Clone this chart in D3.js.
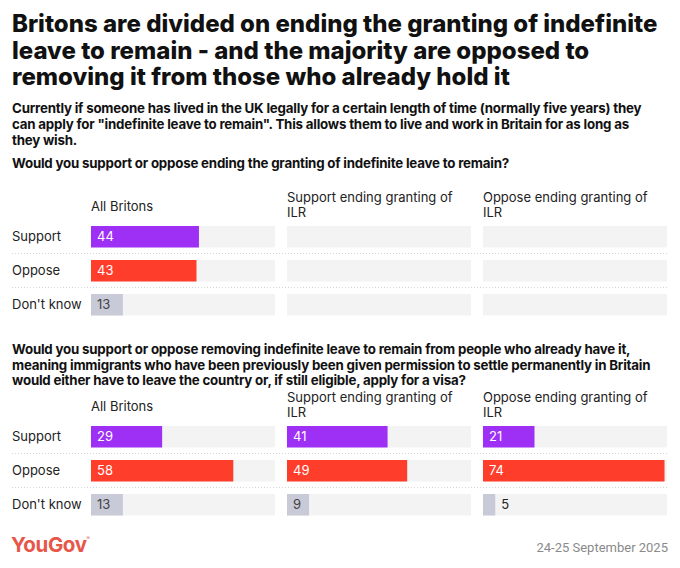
<!DOCTYPE html>
<html>
<head>
<meta charset="utf-8">
<script src="https://cdn.jsdelivr.net/npm/d3@7"></script>
<style>
  body { margin: 0; background: #fff; }
  svg { display: block; }
</style>
</head>
<body>
<div id="chart"></div>
<script>
// --- data ---
const titleLines = [
    "Britons are divided on ending the granting of indefinite",
    "leave to remain - and the majority are opposed to",
    "removing it from those who already hold it"
];
const subtitleLines = [
    "Currently if someone has lived in the UK legally for a certain length of time (normally five years) they",
    "can apply for \"indefinite leave to remain\". This allows them to live and work in Britain for as long as",
    "they wish."
];
const question1Lines = ["Would you support or oppose ending the granting of indefinite leave to remain?"];
const question2Lines = [
    "Would you support or oppose removing indefinite leave to remain from people who already have it,",
    "meaning immigrants who have been previously been given permission to settle permanently in Britain",
    "would either have to leave the country or, if still eligible, apply for a visa?"
];

const categories = ["Support", "Oppose", "Don't know"];
const groups = ["All Britons", "Support ending granting of ILR", "Oppose ending granting of ILR"];

// question 1 was only asked of all Britons; the other panels stay empty
const q1AllBritons = [44, 43, 13];
const q1SupportEnding = [null, null, null];
const q1OpposeEnding = [null, null, null];

const q2AllBritons = [29, 58, 13];
const q2SupportEnding = [41, 49, 9];
const q2OpposeEnding = [21, 74, 5];

const source = "24-25 September 2025";

// --- setup ---
const width = 680, height = 568;
const colors = { "Support": "#9e2ff5", "Oppose": "#ff3d2b", "Don't know": "#c9cad8" };
const textColors = { "Support": "#fff", "Oppose": "#fff", "Don't know": "#444" };

const svg = d3.select("#chart").append("svg")
    .attr("width", width)
    .attr("height", height)
    .attr("font-family", "Inter, 'Noto Sans', sans-serif");

const x = d3.scaleLinear().domain([0, 75]).range([0, 184]);
const panel = d3.scaleBand().domain(groups).range([91, 667]).paddingInner(0.061);

function lines(list, y0, step, attrs) {
    const t = svg.append("text").attr("x", 12).attr("y", y0);
    Object.entries(attrs).forEach(([k, v]) => t.attr(k, v));
    t.selectAll("tspan").data(list).join("tspan")
        .attr("x", 12)
        .attr("dy", (d, i) => i ? step : 0)
        .text(d => d);
    return t;
}

lines(titleLines, 32, 26.5, { "font-size": 24, "font-weight": 800, fill: "#111", "letter-spacing": 0 });
lines(subtitleLines, 112.5, 16, { "font-size": 13.3, "font-weight": 700, fill: "#111", "letter-spacing": -0.2 });

// wrap header text inside the panel width
function wrap(textSel, w) {
    textSel.each(function() {
        const text = d3.select(this);
        const words = text.text().split(/\s+/);
        const xPos = text.attr("x");
        text.text(null);
        let line = [];
        let tspan = text.append("tspan").attr("x", xPos).attr("dy", 0);
        words.forEach(word => {
            line.push(word);
            tspan.text(line.join(" "));
            if (tspan.node().getComputedTextLength() > w && line.length > 1) {
                line.pop();
                tspan.text(line.join(" "));
                line = [word];
                tspan = text.append("tspan").attr("x", xPos).attr("dy", 15).text(word);
            }
        });
    });
}

function section(questionLines, qy, top, series) {
    lines(questionLines, qy, 15.5, { "font-size": 13.3, "font-weight": 700, fill: "#111", "letter-spacing": -0.2 });

    const y = d3.scaleBand().domain(categories).range([top, top + 89.5]).paddingInner(0.368);

    // column headers
    svg.append("g").selectAll("text").data(groups).join("text")
        .attr("x", d => panel(d))
        .attr("y", d => top - 15)
        .attr("font-size", 13)
        .attr("fill", "#222")
        .text(d => d)
        .call(wrap, panel.bandwidth())
        .each(function() {
            const n = d3.select(this).selectAll("tspan").size();
            d3.select(this).attr("y", n > 1 ? top - 24 : top - 15);
        });

    // row labels
    svg.append("g").selectAll("text").data(categories).join("text")
        .attr("x", 12)
        .attr("y", d => y(d) + y.bandwidth() / 2 + 4.5)
        .attr("font-size", 13)
        .attr("fill", "#222")
        .text(d => d);

    // dotted separators
    svg.append("g").selectAll("line").data(categories.slice(0, -1)).join("line")
        .attr("x1", 12).attr("x2", 668)
        .attr("y1", d => y(d) + y.bandwidth() + 6)
        .attr("y2", d => y(d) + y.bandwidth() + 6)
        .attr("stroke", "#d4d4d4")
        .attr("stroke-dasharray", "1,2");

    groups.forEach((g, gi) => {
        const vals = series[gi];
        const cell = svg.append("g").attr("transform", `translate(${panel(g)},0)`)
            .selectAll("g").data(categories.map((c, i) => ({ cat: c, value: vals[i] })))
            .join("g");

        cell.append("rect")
            .attr("y", d => y(d.cat))
            .attr("width", panel.bandwidth())
            .attr("height", y.bandwidth())
            .attr("fill", "#f3f3f3");

        const filled = cell.filter(d => d.value != null);

        filled.append("rect")
            .attr("y", d => y(d.cat))
            .attr("width", d => x(d.value))
            .attr("height", y.bandwidth())
            .attr("fill", d => colors[d.cat]);

        filled.append("text")
            .attr("x", d => x(d.value) < 20 ? x(d.value) + 6 : 6)
            .attr("y", d => y(d.cat) + y.bandwidth() / 2 + 4.5)
            .attr("font-size", 13)
            .attr("fill", d => x(d.value) < 20 ? "#222" : textColors[d.cat])
            .text(d => d.value);
    });
}

section(question1Lines, 168, 226, [q1AllBritons, q1SupportEnding, q1OpposeEnding]);
section(question2Lines, 354, 426, [q2AllBritons, q2SupportEnding, q2OpposeEnding]);

// footer
const logo = svg.append("text")
    .attr("x", 11)
    .attr("y", 552)
    .attr("font-size", 20.5)
    .attr("font-weight", 700)
    .attr("letter-spacing", -0.4)
    .attr("fill", "#e8564a")
    .text("YouGov");
logo.append("tspan")
    .attr("font-size", 5)
    .attr("dy", -12)
    .attr("font-weight", 400)
    .text("®");

svg.append("text")
    .attr("x", 668)
    .attr("y", 552)
    .attr("text-anchor", "end")
    .attr("font-family", "Roboto, sans-serif")
    .attr("font-size", 13)
    .attr("fill", "#8a8a8a")
    .text(source);
</script>
</body>
</html>
